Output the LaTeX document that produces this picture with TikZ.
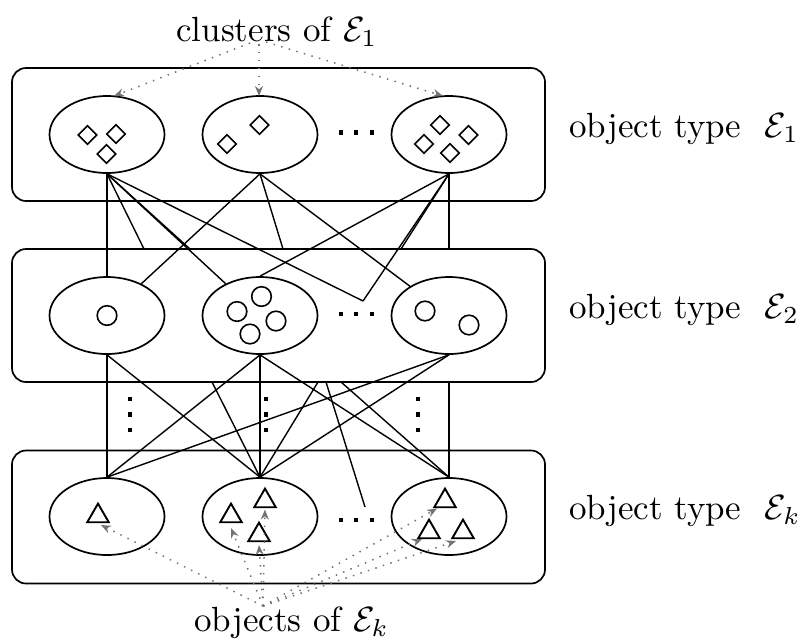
\documentclass[tikz,border=0pt]{standalone}
\usepackage{graphicx}
\usetikzlibrary{arrows.meta,shapes.geometric}
\definecolor{ptrgray}{RGB}{115,115,115}
\newcommand{\biglbl}[1]{\scalebox{1.75}{#1}}
\begin{document}
\begin{tikzpicture}[x=0.5pt,y=-0.5pt,
  box/.style={draw,line width=0.85pt,rounded corners=7pt,minimum width=266.5pt,minimum height=66.5pt,inner sep=0pt},
  clus/.style={draw,ellipse,line width=0.85pt,minimum width=57.5pt,minimum height=38.5pt,inner sep=0pt},
  link/.style={line width=0.7pt},
  dia/.style={draw,diamond,line width=0.8pt,minimum width=9.6pt,minimum height=9.6pt,inner sep=0pt},
  circ/.style={draw,circle,line width=0.8pt,minimum size=9.8pt,inner sep=0pt},
  tri/.style={draw,regular polygon,regular polygon sides=3,line width=0.95pt,minimum size=12.4pt,inner sep=0pt},
  sq/.style={fill,rectangle,minimum size=2.3pt,inner sep=0pt},
  lbl/.style={font=\normalsize,inner sep=0pt},
  ptr/.style={draw=ptrgray,line width=0.75pt,dash pattern=on 0.75pt off 3.2pt,-{Stealth[length=5pt,width=4pt,fill=ptrgray]}}
]
\useasboundingbox (0,0) rectangle (801,639);

% boxes (object types)
\node[box] (box1) at (278.5,134.5) {};
\node[box] (box2) at (278.5,315.5) {};
\node[box] (box3) at (278.5,517) {};

% clusters
\node[clus] (c11) at (107,134.5) {};
\node[clus] (c21) at (260,134.5) {};
\node[clus] (c31) at (449,134.5) {};
\node[clus] (c12) at (107,315.5) {};
\node[clus] (c22) at (260,315.5) {};
\node[clus] (c32) at (449,315.5) {};
\node[clus] (c13) at (107,516.5) {};
\node[clus] (c23) at (260,516.5) {};
\node[clus] (c33) at (449,516.5) {};

% horizontal ellipsis dots
\foreach \r/\y in {1/132.5,2/314,3/520}{
  \node[sq] (hd\r a) at (341,\y) {};
  \node[sq] (hd\r b) at (356,\y) {};
  \node[sq] (hd\r c) at (372,\y) {};
}
% vertical ellipsis dots
\foreach \c/\x in {1/130,2/266,3/418}{
  \node[sq] (vd\c a) at (\x,399) {};
  \node[sq] (vd\c b) at (\x,414.5) {};
  \node[sq] (vd\c c) at (\x,430) {};
}

% free ends of links
\coordinate (h2) at (363,301);
\coordinate (h3) at (365,507);
\coordinate (t1) at (144,249);
\coordinate (t2) at (190,249);
\coordinate (t3) at (283,249);
\coordinate (t4) at (401,249);
\coordinate (t5) at (449,249);
\coordinate (b1) at (212,382);
\coordinate (b2) at (318,382);
\coordinate (b3) at (326,382);
\coordinate (b4) at (341,382);
\coordinate (b5) at (449,382);

% links row 1 -> row 2
\draw[link] (c11.south) -- (c12.north);
\draw[link] (c11.south) -- (t1);
\draw[link] (c11.south) -- (c22);
\draw[link] (c11.south) -- (t2);
\draw[link] (c11.south) -- (h2);
\draw[link] (c21.south) -- (c12);
\draw[link] (c21.south) -- (t3);
\draw[link] (c21.south) -- (c32);
\draw[link] (c31.south) -- (t5);
\draw[link] (c31.south) -- (c22.north);
\draw[link] (c31.south) -- (h2);
\draw[link] (c31.south) -- (t4);

% links row 2 -> row k
\draw[link] (c12.south) -- (c13.north);
\draw[link] (c12.south) -- (c23.north);
\draw[link] (c22.south) -- (c23.north);
\draw[link] (c22.south) -- (c13.north);
\draw[link] (c22.south) -- (c33.north);
\draw[link] (c32.south) -- (c13.north);
\draw[link] (c32.south) -- (c23.north);
\draw[link] (b1) -- (c23.north);
\draw[link] (b2) -- (c23.north);
\draw[link] (b3) -- (h3);
\draw[link] (b4) -- (c33.north);
\draw[link] (b5) -- (c33.north);

% objects of type 1 (diamonds)
\node[dia] (d1) at (87.5,135) {};
\node[dia] (d2) at (116,134) {};
\node[dia] (d3) at (106.5,154) {};
\node[dia] (d4) at (227,144) {};
\node[dia] (d5) at (259.5,125) {};
\node[dia] (d6) at (440,125) {};
\node[dia] (d7) at (424,144) {};
\node[dia] (d8) at (468.5,135) {};
\node[dia] (d9) at (450,153) {};

% objects of type 2 (circles)
\node[circ] (o1) at (107,315.5) {};
\node[circ] (o2) at (261.5,296.5) {};
\node[circ] (o3) at (237,311.5) {};
\node[circ] (o4) at (276,321) {};
\node[circ] (o5) at (250,334) {};
\node[circ] (o6) at (425,311) {};
\node[circ] (o7) at (469,325) {};

% objects of type k (triangles)
\node[tri] (g1) at (98,516) {};
\node[tri] (g2) at (231,516) {};
\node[tri] (g3) at (265,501) {};
\node[tri] (g4) at (259,535) {};
\node[tri] (g5) at (445,501) {};
\node[tri] (g6) at (429,532) {};
\node[tri] (g7) at (463,532) {};

% labels
\node[lbl,anchor=base west] (top) at (176,41.7) {\biglbl{clusters of $\mathcal{E}_1$}};
\node[lbl,anchor=base west] (bot) at (194,631) {\biglbl{objects of $\mathcal{E}_k$}};
\node[lbl,anchor=base west] (l1) at (569,137) {\biglbl{object type\hspace{0.67em}$\mathcal{E}_1$}};
\node[lbl,anchor=base west] (l2) at (569,318) {\biglbl{object type\hspace{0.67em}$\mathcal{E}_2$}};
\node[lbl,anchor=base west] (l3) at (569,519) {\biglbl{object type\hspace{0.67em}$\mathcal{E}_k$}};

% pointers from the top label
\coordinate (s1) at (250,43);
\coordinate (s2) at (259,44);
\coordinate (s3) at (266,42);
\coordinate (a1) at (114,96);
\coordinate (a2) at (259,96);
\coordinate (a3) at (443,96);
\draw[ptr] (s1) -- (a1);
\draw[ptr] (s2) -- (a2);
\draw[ptr] (s3) -- (a3);

% pointers from the bottom label
\coordinate (src) at (263,606);
\coordinate (p1) at (101,525);
\coordinate (p2) at (231,528);
\coordinate (p3) at (265,509.5);
\coordinate (p4) at (259,545);
\coordinate (p5) at (437,508.5);
\coordinate (p6) at (422,539);
\coordinate (p7) at (456,541);
\foreach \p in {p1,p2,p3,p4,p5,p6,p7}{
  \draw[ptr] (src) -- (\p);
}
\end{tikzpicture}
\end{document}
